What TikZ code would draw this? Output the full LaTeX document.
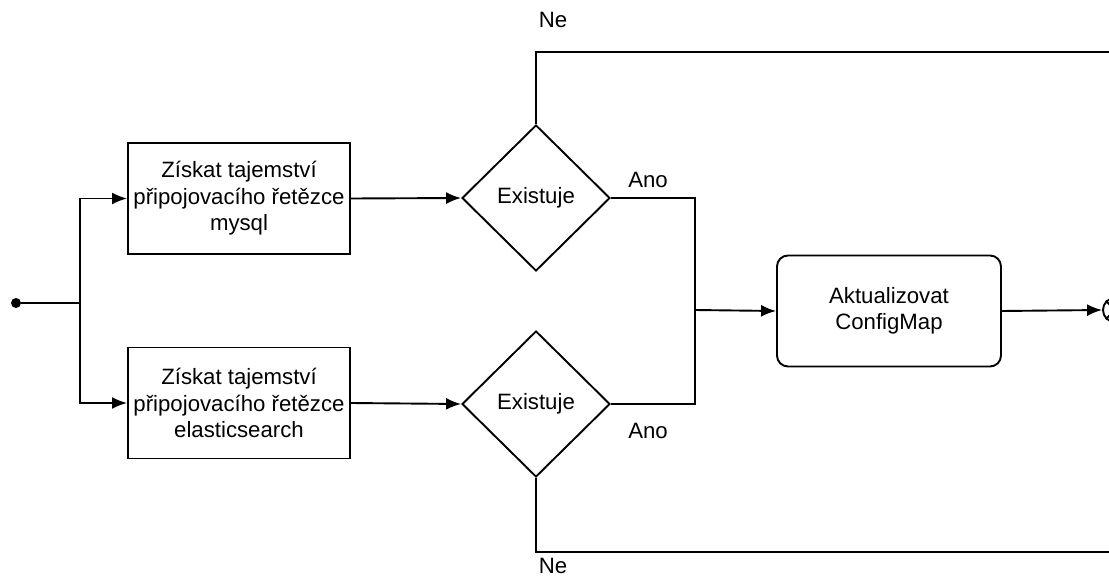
\documentclass[tikz,border=0pt]{standalone}
\usepackage{fontspec}
\setmainfont{Liberation Sans}
\usetikzlibrary{shapes.geometric,arrows.meta}
\begin{document}
\begin{tikzpicture}[x=1pt,y=-1pt,
  every node/.style={font=\fontsize{22.2}{26.5}\selectfont},
  task/.style={draw,line width=1.9pt,minimum width=222pt,minimum height=111pt,align=center,inner sep=0pt},
  rtask/.style={task,rounded corners=11pt,minimum width=224pt},
  decide/.style={draw,diamond,line width=1.9pt,minimum width=148pt,minimum height=146pt,inner sep=0pt,aspect=1},
  flow/.style={line width=1.9pt,-{Latex[length=15pt,width=12pt]}},
  plain/.style={line width=1.9pt},
  lbl/.style={inner sep=0pt}]
\useasboundingbox (0,0) rectangle (1109,578);
\fill[white] (0,0) rectangle (1109,578);
\node[circle,fill=black,inner sep=0pt,minimum size=10pt] (start) at (16,303) {};
\coordinate (split) at (80,303);
\node[task] (b1) at (239,198.5) {Získat tajemství\\připojovacího řetězce\\mysql};
\node[task] (b2) at (239,403) {Získat tajemství\\připojovacího řetězce\\elasticsearch};
\node[decide] (d1) at (536,198) {Existuje};
\node[decide] (d2) at (536,404) {Existuje};
\node[rtask] (b3) at (889,311) {Aktualizovat\\ConfigMap};
\coordinate (merge) at (695,310);
\coordinate (topR) at (1112,52);
\coordinate (botR) at (1112,552);
\node[circle,draw,line width=1.9pt,minimum size=24pt,inner sep=0pt] (end) at (1115,310) {};
\draw[line width=1.9pt] (end.north west) -- (end.south east) (end.south west) -- (end.north east);

\draw[plain] (start) -- (split);
\draw[flow] (split) |- (b1.west);
\draw[flow] (split) |- (b2.west);
\draw[flow] (b1.east) -- (d1.west);
\draw[flow] (b2.east) -- (d2.west);
\draw[plain] (d1.east) -| (merge);
\draw[plain] (d2.east) -| (merge);
\draw[flow] (merge) -- (b3.west);
\draw[flow] (b3.east) -- (end.west);
\draw[plain] (d1.north) |- (topR);
\draw[plain] (d2.south) |- (botR);

\node[lbl] (ne1) at (553,20) {Ne};
\node[lbl] (ne2) at (553,566) {Ne};
\node[lbl] (ano1) at (648,180) {Ano};
\node[lbl] (ano2) at (648,431) {Ano};
\end{tikzpicture}
\end{document}
